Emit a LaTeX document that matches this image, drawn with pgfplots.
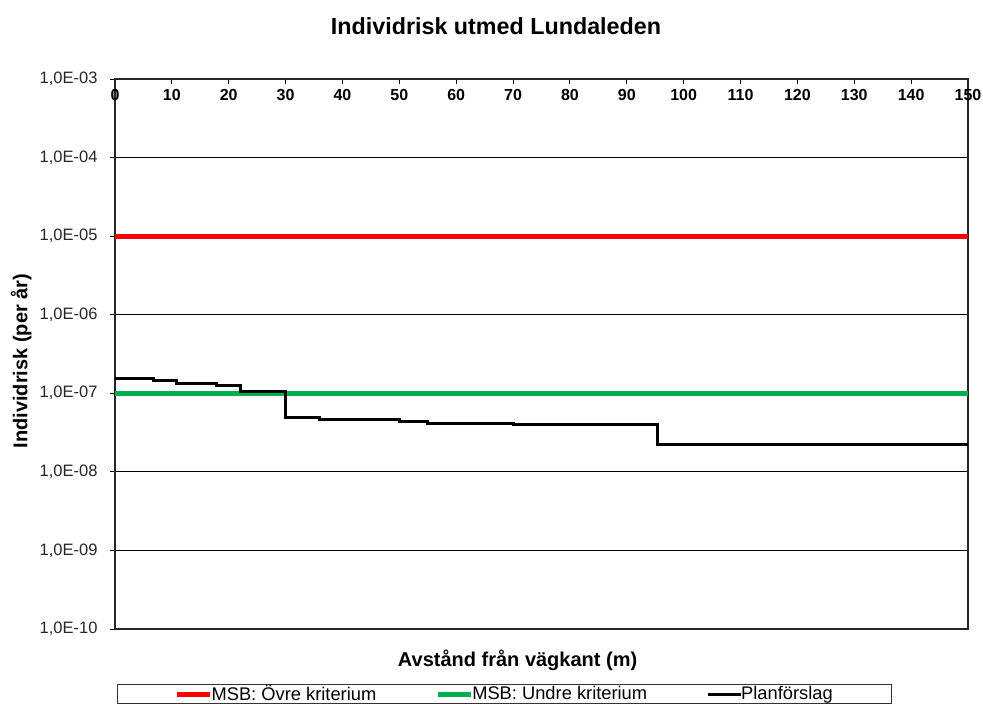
\documentclass[border=0pt]{standalone}
\usepackage{pgfplots}
\pgfplotsset{compat=1.18}
\usepackage{fontspec}
\setmainfont{Liberation Sans}
\definecolor{xlgreen}{RGB}{0,176,80}
\definecolor{xlred}{RGB}{255,0,0}
\begin{document}
\begin{tikzpicture}[x=1pt,y=1pt]
\path[use as bounding box] (0,0) rectangle (983,704);
\begin{axis}[
  at={(115pt,75pt)}, anchor=south west,
  scale only axis, width=853pt, height=550pt,
  xmin=0, xmax=150,
  ymode=log, ymin=1e-10, ymax=1e-3,
  xtick={0,10,20,30,40,50,60,70,80,90,100,110,120,130,140,150},
  xticklabels={0,10,20,30,40,50,60,70,80,90,100,110,120,130,140,150},
  xtick pos=right, xticklabel pos=right,
  xtick align=inside, ytick align=outside,
  ytick pos=left,
  ytick={1e-10,1e-9,1e-8,1e-7,1e-6,1e-5,1e-4,1e-3},
  yticklabels={{1,0E-10},{1,0E-09},{1,0E-08},{1,0E-07},{1,0E-06},{1,0E-05},{1,0E-04},{1,0E-03}},
  yminorticks=false, xminorticks=false,
  major tick length=5pt,
  tick style={black, line width=1pt},
  ymajorgrids, major grid style={black, line width=0.9pt},
  axis line style={black!85, line width=1.4pt},
  xticklabel style={anchor=north, yshift=-7pt, font=\fontsize{16}{18}\selectfont\bfseries},
  yticklabel style={xshift=-9pt, font=\fontsize{16.5}{18}\selectfont, color=black!85},
  xlabel={Avstånd från vägkant (m)},
  xlabel style={at={(0.472,0)}, anchor=center, yshift=-31pt, font=\fontsize{20}{22}\selectfont\bfseries},
  ylabel={Individrisk (per år)},
  ylabel style={at={(-0.110,0.487)}, anchor=center, font=\fontsize{20}{22}\selectfont\bfseries},
  legend columns=3,
  legend cell align=left,
  legend image code/.code={\draw[#1] (0pt,0pt) -- (33pt,0pt);},
  legend style={at={(0.0023,0)}, anchor=north west, yshift=-54.5pt,
    draw=black!80, line width=1.2pt, font=\fontsize{18.3}{20}\selectfont,
    inner xsep=57pt, inner ysep=0pt,
    nodes={inner ysep=1.5pt},
    /tikz/every odd column/.append style={column sep=-3pt},
    /tikz/every even column/.append style={column sep=57pt}},
]
\addplot[xlred, line width=5pt] coordinates {(0,1e-5) (150,1e-5)};
\addlegendentry{MSB: Övre kriterium}
\addplot[xlgreen, line width=5pt] coordinates {(0,1e-7) (150,1e-7)};
\addlegendentry{MSB: Undre kriterium}
\addplot[black, line width=3pt, const plot] coordinates {
 (0,1.55e-7) (6.7,1.45e-7) (10.9,1.35e-7) (17.9,1.25e-7) (22,1.05e-7)
 (30,4.9e-8) (36,4.6e-8) (50,4.35e-8) (55,4.15e-8) (70,3.95e-8)
 (95.4,2.25e-8) (150,2.25e-8)};
\addlegendentry{Planförslag}
\end{axis}
\node[font=\fontsize{23.3}{26}\selectfont\bfseries, anchor=base] at (496,669) {Individrisk utmed Lundaleden};
\end{tikzpicture}
\end{document}
